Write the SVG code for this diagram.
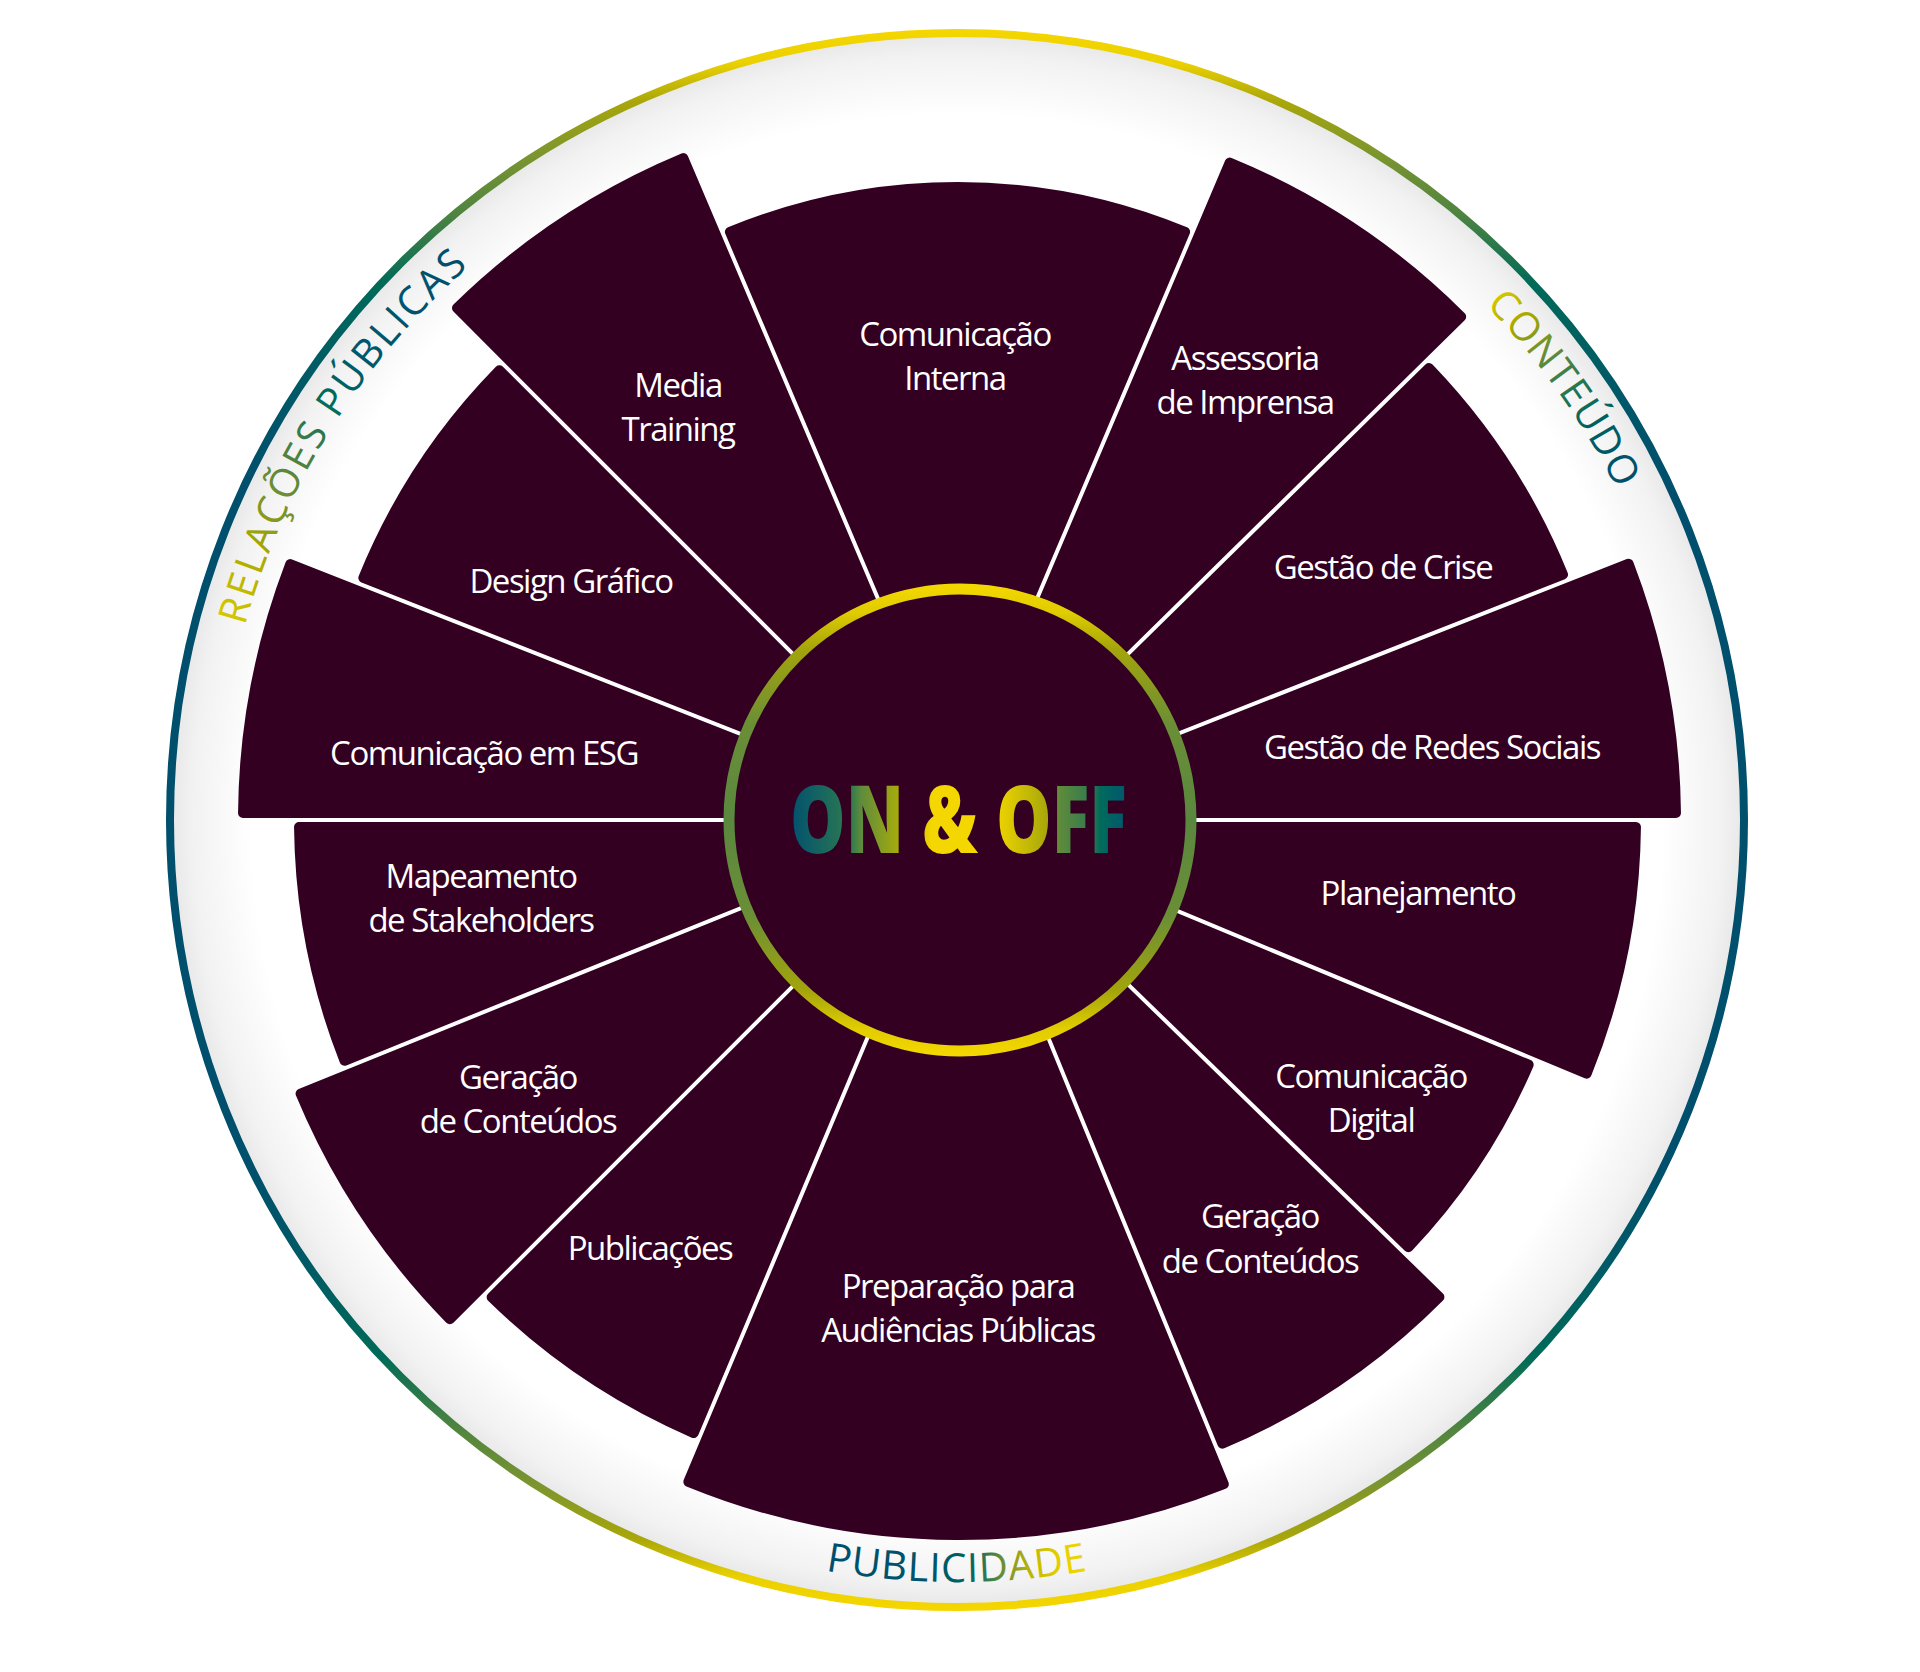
<svg xmlns="http://www.w3.org/2000/svg" width="1920" height="1672" viewBox="0 0 1920 1672">
<defs>
<style>
.seg{fill:#330022;stroke:#330022;stroke-width:10;stroke-linejoin:round}
.lbl{font-family:"Open Sans","Noto Sans",sans-serif;font-size:33px;fill:#ffffff;text-anchor:middle;letter-spacing:-1.5px}
.ring{font-family:"Open Sans","Noto Sans",sans-serif;font-size:40px}
</style>
<linearGradient id="gRing" x1="0" y1="31" x2="0" y2="1609" gradientUnits="userSpaceOnUse">
<stop offset="0" stop-color="#F4D600"/><stop offset="0.02" stop-color="#EBD100"/><stop offset="0.045" stop-color="#A8A60A"/>
<stop offset="0.08" stop-color="#7A9430"/><stop offset="0.115" stop-color="#4F8440"/><stop offset="0.16" stop-color="#006A58"/>
<stop offset="0.22" stop-color="#005A66"/><stop offset="0.28" stop-color="#004F6C"/><stop offset="0.72" stop-color="#004F6C"/>
<stop offset="0.78" stop-color="#005A66"/><stop offset="0.84" stop-color="#006A58"/><stop offset="0.885" stop-color="#4F8440"/>
<stop offset="0.92" stop-color="#7A9430"/><stop offset="0.955" stop-color="#A8A60A"/><stop offset="0.98" stop-color="#EBD100"/><stop offset="1" stop-color="#F4D600"/>
</linearGradient>
<linearGradient id="gInner" x1="0" y1="584" x2="0" y2="1056" gradientUnits="userSpaceOnUse">
<stop offset="0" stop-color="#F5D800"/><stop offset="0.06" stop-color="#E0CC00"/><stop offset="0.14" stop-color="#A2A40C"/>
<stop offset="0.3" stop-color="#6A8E36"/><stop offset="0.5" stop-color="#5A883F"/><stop offset="0.7" stop-color="#6A8E36"/>
<stop offset="0.86" stop-color="#A2A40C"/><stop offset="0.94" stop-color="#E0CC00"/><stop offset="1" stop-color="#F5D800"/>
</linearGradient>
<radialGradient id="gBand" cx="957" cy="820" r="784" gradientUnits="userSpaceOnUse">
<stop offset="0" stop-color="#FFFFFF"/><stop offset="0.9" stop-color="#FFFFFF"/><stop offset="0.975" stop-color="#F2F2F2"/><stop offset="1" stop-color="#E9E9E9"/>
</radialGradient>
<linearGradient id="gOnOff" x1="790" y1="0" x2="1127" y2="0" gradientUnits="userSpaceOnUse">
<stop offset="0" stop-color="#00506F"/><stop offset="0.18" stop-color="#2E7A50"/><stop offset="0.21" stop-color="#5E8B3C"/>
<stop offset="0.35" stop-color="#B8B400"/><stop offset="0.42" stop-color="#F4D700"/><stop offset="0.6" stop-color="#F4D700"/>
<stop offset="0.64" stop-color="#E2CD00"/><stop offset="0.77" stop-color="#A4A50C"/><stop offset="0.8" stop-color="#5E8B3C"/>
<stop offset="0.9" stop-color="#2F7850"/><stop offset="0.92" stop-color="#006B5C"/><stop offset="1" stop-color="#00566E"/>
</linearGradient>
<linearGradient id="gRel" x1="235" y1="630" x2="470" y2="262" gradientUnits="userSpaceOnUse">
<stop offset="0" stop-color="#D8CA00"/><stop offset="0.18" stop-color="#A8A800"/><stop offset="0.33" stop-color="#6A8C35"/>
<stop offset="0.46" stop-color="#3A7A4A"/><stop offset="0.56" stop-color="#006A5A"/><stop offset="0.68" stop-color="#00586A"/><stop offset="1" stop-color="#004E6C"/>
</linearGradient>
<linearGradient id="gCont" x1="1490" y1="300" x2="1625" y2="485" gradientUnits="userSpaceOnUse">
<stop offset="0" stop-color="#D4C800"/><stop offset="0.15" stop-color="#A8A800"/><stop offset="0.35" stop-color="#5E8B3C"/>
<stop offset="0.55" stop-color="#1E7452"/><stop offset="0.7" stop-color="#006060"/><stop offset="1" stop-color="#004E6C"/>
</linearGradient>
<linearGradient id="gPub" x1="825" y1="0" x2="1087" y2="0" gradientUnits="userSpaceOnUse">
<stop offset="0" stop-color="#004E6D"/><stop offset="0.4" stop-color="#00546A"/><stop offset="0.55" stop-color="#006460"/>
<stop offset="0.63" stop-color="#3C7E4A"/><stop offset="0.72" stop-color="#8E9C22"/><stop offset="0.8" stop-color="#C4BA00"/>
<stop offset="0.9" stop-color="#E6D000"/><stop offset="1" stop-color="#F0D500"/>
</linearGradient>
<path id="arcRel" d="M305.4,1166.5 A738,738 0 0 1 982.76,82.45"/>
<path id="arcCont" d="M887.55,85.28 A738,738 0 0 1 1628.02,1127.21"/>
<path id="arcPub" d="M297.1,1201 A762,762 0 0 0 1616.9,1201"/>
</defs>
<rect width="1920" height="1672" fill="#FFFFFF"/>
<g id="frame">
<circle cx="957" cy="820" r="784" fill="url(#gBand)"/>
<circle cx="957" cy="820" r="787" fill="none" stroke="url(#gRing)" stroke-width="8"/>
<text class="ring" fill="url(#gRel)" letter-spacing="2.6"><textPath href="#arcRel" startOffset="50%" text-anchor="middle">RELAÇÕES PÚBLICAS</textPath></text>
<text class="ring" fill="url(#gCont)" letter-spacing="1"><textPath href="#arcCont" startOffset="50%" text-anchor="middle">CONTEÚDO</textPath></text>
<text class="ring" fill="url(#gPub)" letter-spacing="1"><textPath href="#arcPub" startOffset="50%" text-anchor="middle">PUBLICIDADE</textPath></text>
</g>
<g id="seg-redes-sociais"><path class="seg" d="M1109,813 L1675.97,813 A717,717 0 0 0 1628.65,563.74 L1101.13,771.53 Z"/><text class="lbl" x="1432" y="759">Gestão de Redes Sociais</text></g>
<g id="seg-gestao-crise"><path class="seg" d="M1095.99,758.51 L1563.03,574.55 A652,652 0 0 0 1428.92,368.02 L1070.90,719.85 Z"/><text class="lbl" x="1383" y="579">Gestão de Crise</text></g>
<g id="seg-assessoria"><path class="seg" d="M1061.08,709.87 L1461.19,316.68 A711,711 0 0 0 1229.74,162.56 L1003.01,696.69 Z"/><text class="lbl" x="1245" y="370">Assessoria</text><text class="lbl" x="1245" y="414">de Imprensa</text></g>
<g id="seg-comunicacao-interna"><path class="seg" d="M990.13,691.21 L1185.09,231.92 A599,599 0 0 0 729.91,231.92 L924.87,691.21 Z"/><text class="lbl" x="955" y="346">Comunicação</text><text class="lbl" x="955" y="390">Interna</text></g>
<g id="seg-media-training"><path class="seg" d="M911.99,696.69 L683.37,158.10 A717,717 0 0 0 456.98,308.08 L857.88,708.98 Z"/><text class="lbl" x="678" y="397">Media</text><text class="lbl" x="678" y="441">Training</text></g>
<g id="seg-design-grafico"><path class="seg" d="M847.98,718.88 L499.41,370.31 A643,643 0 0 0 363.35,577.85 L822.01,758.51 Z"/><text class="lbl" x="571" y="593">Design Gráfico</text></g>
<g id="seg-esg"><path class="seg" d="M816.87,771.53 L290.28,564.11 A716,716 0 0 0 243.03,813 L809,813 Z"/><text class="lbl" x="484" y="765">Comunicação em ESG</text></g>
<g id="seg-mapeamento"><path class="seg" d="M809,827 L299.04,827 A660,660 0 0 0 344.48,1060.74 L817.30,869.70 Z"/><text class="lbl" x="481" y="888">Mapeamento</text><text class="lbl" x="481" y="932">de Stakeholders</text></g>
<g id="seg-geracao-esq"><path class="seg" d="M822.54,882.68 L300.57,1093.58 A713,713 0 0 0 449.90,1319.20 L847.98,921.12 Z"/><text class="lbl" x="518" y="1089">Geração</text><text class="lbl" x="518" y="1133">de Conteúdos</text></g>
<g id="seg-publicacoes"><path class="seg" d="M857.88,931.02 L491.63,1297.27 A668,668 0 0 0 693.70,1433.06 L894.42,955.57 Z"/><text class="lbl" x="650" y="1260">Publicações</text></g>
<g id="seg-preparacao"><path class="seg" d="M907.32,960.99 L688.39,1481.81 A715,715 0 0 0 1223.82,1484.16 L1009.44,961.44 Z"/><text class="lbl" x="958" y="1298">Preparação para</text><text class="lbl" x="958" y="1342">Audiências Públicas</text></g>
<g id="seg-geracao-dir"><path class="seg" d="M1022.40,956.12 L1222.36,1443.67 A677,677 0 0 0 1439.44,1296.98 L1061.66,929.60 Z"/><text class="lbl" x="1260" y="1228">Geração</text><text class="lbl" x="1260" y="1273">de Conteúdos</text></g>
<g id="seg-comunicacao-digital"><path class="seg" d="M1071.42,919.56 L1408.34,1247.20 A620,620 0 0 0 1528.66,1064.71 L1094.79,884.11 Z"/><text class="lbl" x="1371" y="1088">Comunicação</text><text class="lbl" x="1371" y="1132">Digital</text></g>
<g id="seg-planejamento"><path class="seg" d="M1100.17,871.19 L1586.67,1073.70 A677,677 0 0 0 1635.96,827 L1109,827 Z"/><text class="lbl" x="1418" y="905">Planejamento</text></g>
<g id="center">
<circle cx="960" cy="820" r="231" fill="#330022" stroke="url(#gInner)" stroke-width="11"/>
<text x="958.5" y="853" text-anchor="middle" font-family="'Open Sans','Noto Sans',sans-serif" font-weight="800" font-size="94" fill="url(#gOnOff)" textLength="337" lengthAdjust="spacingAndGlyphs">ON &amp; OFF</text>
</g>
</svg>
